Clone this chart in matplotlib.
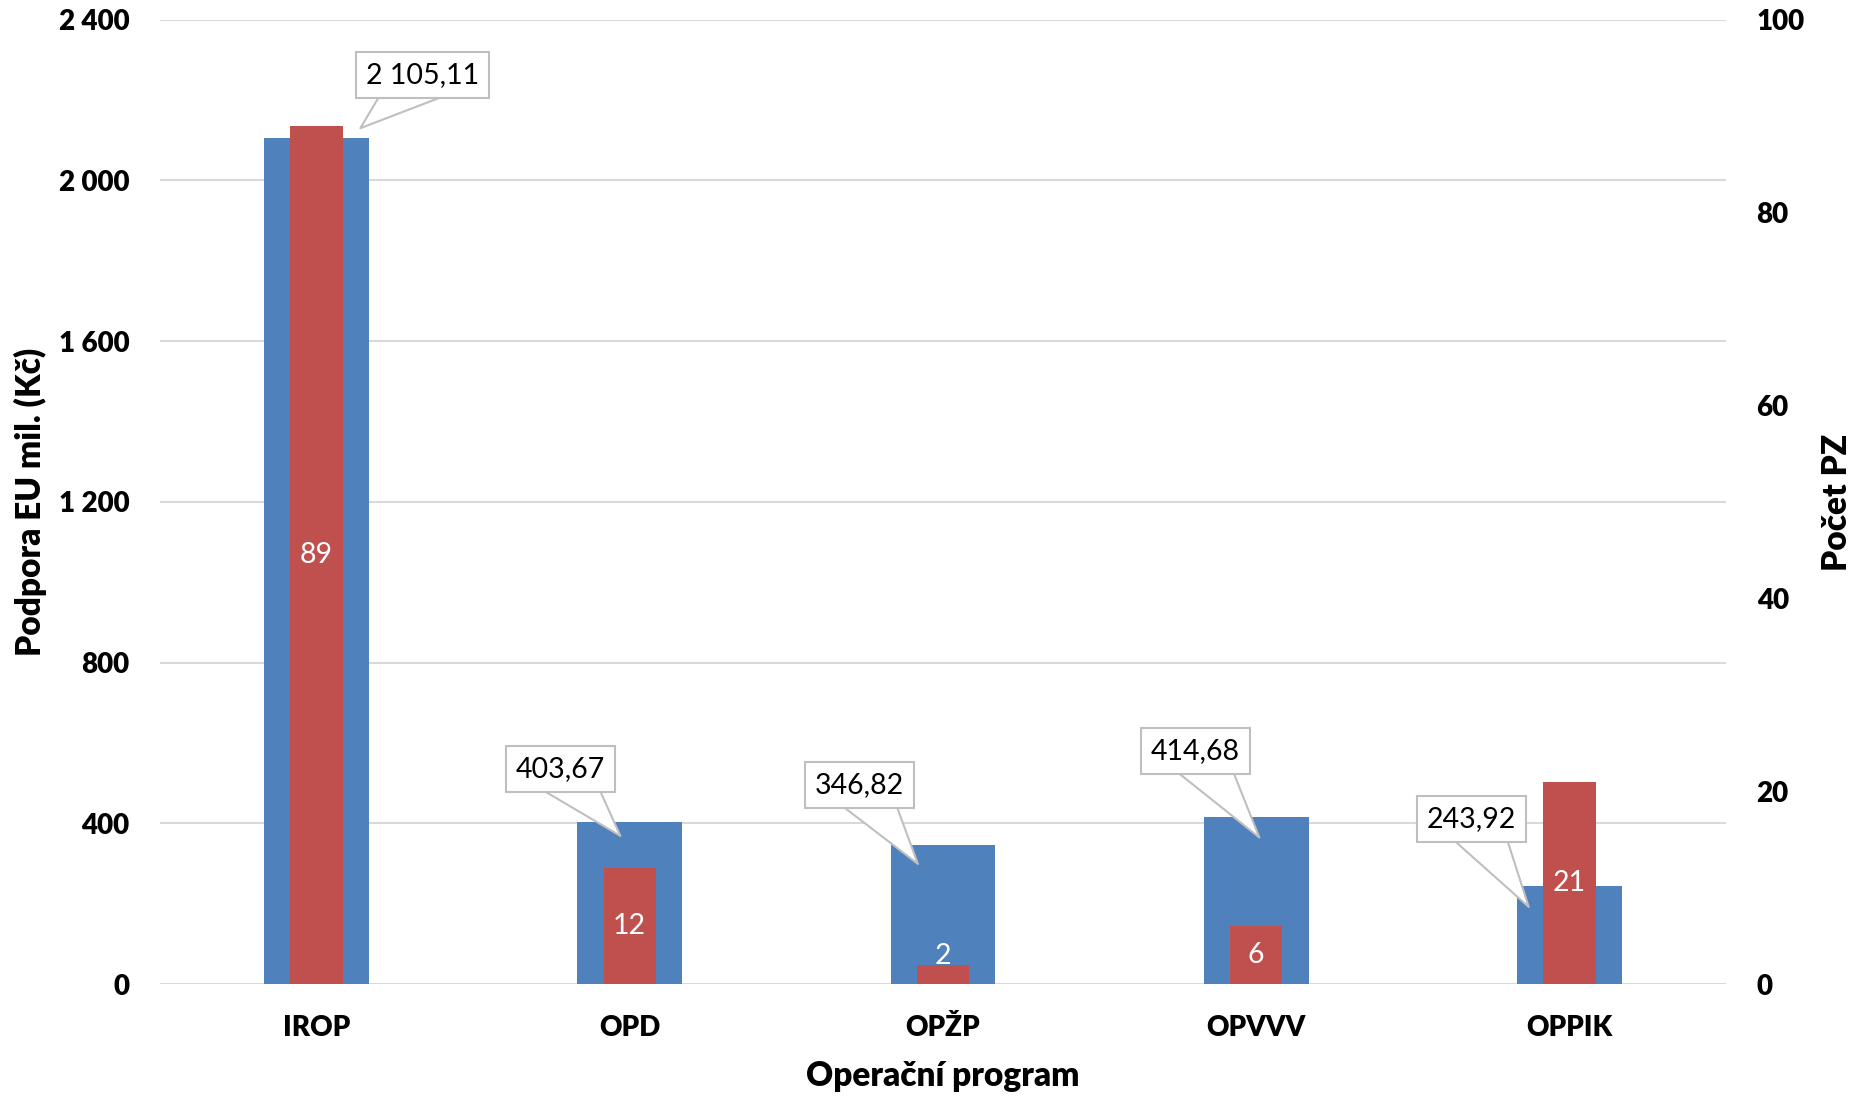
import matplotlib.pyplot as plt
from matplotlib.ticker import FuncFormatter

plt.rcParams['font.family'] = ['Lato', 'DejaVu Sans']

programs = ['IROP', 'OPD', 'OPŽP', 'OPVVV', 'OPPIK']
support = [2105.11, 403.67, 346.82, 414.68, 243.92]   # Podpora EU mil. Kč
projects = [89, 12, 2, 6, 21]                         # Počet PZ

blue = '#4f81bd'
red = '#c0504d'
heavy = 'heavy'

# callout placement (tip shift in category units / value units, box offset in points)
tip_dx = [0.14, -0.03, -0.08, 0.01, -0.13]
tip_dy = [25, -35, -48, -50, -52]
box_off = [(45, 38), (-43, 48), (-42, 57), (-46, 62), (-41, 63)]

fig = plt.figure(figsize=(18.64, 10.97), dpi=100)
ax1 = fig.add_axes([0.0858, 0.103, 0.8402, 0.879])
ax2 = ax1.twinx()

x = list(range(len(programs)))
ax1.bar(x, support, width=0.334, color=blue, zorder=2)
ax2.bar(x, projects, width=0.167, color=red, zorder=2)

ax1.set_xlim(-0.5, len(programs) - 0.5)
ax1.set_ylim(0, 2400)
ax1.set_yticks(range(0, 2401, 400))
ax1.yaxis.set_major_formatter(FuncFormatter(lambda v, p: f'{int(v):,}'.replace(',', ' ')))
ax2.set_ylim(0, 100)
ax2.set_yticks(range(0, 101, 20))

ax1.set_axisbelow(True)
ax1.grid(axis='y', color='#d9d9d9', lw=1.5, zorder=0)
for a in (ax1, ax2):
    for s in a.spines.values():
        s.set_visible(False)
    a.tick_params(length=0, labelsize=20)
    for lab in a.get_yticklabels() + a.get_xticklabels():
        lab.set_fontweight(heavy)
ax1.tick_params(axis='y', pad=22)
ax2.tick_params(axis='y', pad=22)
ax1.set_xticks(x)
ax1.set_xticklabels(programs, fontsize=20, fontweight=heavy)
ax1.tick_params(axis='x', pad=22)

# labels inside red bars
for i, v in enumerate(projects):
    ax2.text(i, max(v / 2, 2.9), str(v), color='white', fontsize=20.5,
             ha='center', va='center', zorder=5)

# callouts for blue bars
for i, v in enumerate(support):
    txt = f'{v:,.2f}'.replace(',', ' ').replace('.', ',')
    ax2.annotate(txt, xy=(i + tip_dx[i], v + tip_dy[i]), xycoords=ax1.transData,
                 xytext=box_off[i], textcoords='offset points',
                 ha='center', va='center', fontsize=20.5, zorder=6,
                 bbox=dict(boxstyle='square,pad=0.35', fc='white', ec='#bfbfbf', lw=1.5),
                 arrowprops=dict(arrowstyle='wedge,tail_width=2.0', fc='white',
                                 ec='#bfbfbf', lw=1.5, shrinkA=0, shrinkB=0,
                                 patchA=None))

fig.text(30 / 1864, 1 - 502 / 1097, 'Podpora EU mil. (Kč)', rotation=90,
         ha='center', va='center', fontsize=24, fontweight=heavy)
fig.text(1837 / 1864, 1 - 502 / 1097, 'Počet PZ', rotation=90,
         ha='center', va='center', fontsize=24, fontweight=heavy)
fig.text(0.5 * (160 + 1726) / 1864, 1 - 1076 / 1097, 'Operační program',
         ha='center', va='center', fontsize=24, fontweight=heavy)

fig.savefig('out.png', dpi=100)
